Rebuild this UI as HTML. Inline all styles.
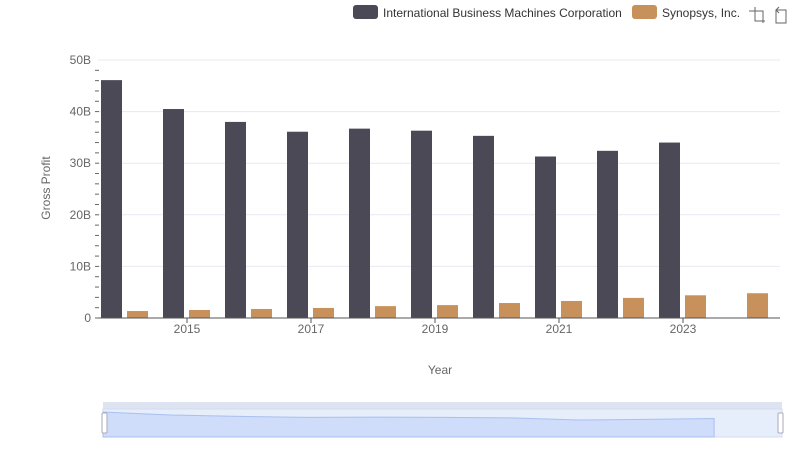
<!DOCTYPE html>
<html><head><meta charset="utf-8"><style>
body{margin:0;background:#fff;font-family:"Liberation Sans",sans-serif;}
svg text{font-family:"Liberation Sans",sans-serif;}
</style></head><body>
<svg id="c" width="800" height="461" xmlns="http://www.w3.org/2000/svg">
<g>
 <g><rect x="353" y="5" width="25" height="14" rx="3" fill="#4a4955"/><text x="383" y="17" font-size="12" fill="#333">International Business Machines Corporation</text></g>
 <g><rect x="632" y="5" width="25" height="14" rx="3" fill="#c8915c"/><text x="662" y="17" font-size="12" fill="#333">Synopsys, Inc.</text></g>
 <g stroke="#666" fill="none"><path d="M749 11h14v12M755 7v14h10"/></g>
 <g stroke="#666" fill="none"><path d="M776 10h10v13h-10zM779 7l-3 3 3 3"/></g>
</g>
<g id="grid"></g>
<g id="bars"></g>
<g id="axes"></g>
<text x="50" y="188" font-size="12" fill="#666" text-anchor="middle" transform="rotate(-90 50 188)">Gross Profit</text>
<text x="440" y="374" font-size="12" fill="#666" text-anchor="middle">Year</text>
<g id="dz"></g>
</svg>
<script>
const years=[2014,2015,2016,2017,2018,2019,2020,2021,2022,2023,2024];
const ibm=[46.1,40.5,38.0,36.1,36.7,36.3,35.3,31.3,32.4,34.0,null];
const snps=[1.35,1.55,1.75,1.95,2.3,2.5,2.9,3.3,3.9,4.4,4.8];
const yTicks=[0,10,20,30,40,50];
const yTickLabels=["0","10B","20B","30B","40B","50B"];
const NS="http://www.w3.org/2000/svg";
const X0=98,X1=780,Y0=318,Y1=60;
const band=(X1-X0)/years.length;
const y=v=>Y0-(v/50)*(Y0-Y1);
function mk(t,a,p){const e=document.createElementNS(NS,t);for(const k in a)e.setAttribute(k,a[k]);p.appendChild(e);return e;}
const grid=document.getElementById('grid'),bars=document.getElementById('bars'),axes=document.getElementById('axes');
yTicks.forEach((t,i)=>{
 const g=mk('line',{x1:X0,x2:X1,y1:y(t),y2:y(t),stroke:'#e6eaf2'},grid);
 
 
 const l=mk('text',{x:91,y:y(t)+4,'font-size':12,fill:'#666','text-anchor':'end'},axes);
 l.textContent=yTickLabels[i];
 
 
});
for(let v=0;v<50;v+=2){const m=mk('line',{x1:95,x2:99,y1:y(v),y2:y(v),stroke:'#666'},axes);
 
 }
const ax=mk('line',{x1:X0,x2:X1,y1:Y0,y2:Y0,stroke:'#555'},axes);


years.forEach((yr,i)=>{
 const b=X0+i*band;
 if(ibm[i]!=null){const r=mk('rect',{x:b+3,y:y(ibm[i]),width:21,height:Y0-y(ibm[i]),fill:'#4a4955'},bars);
  
  }
 const r2=mk('rect',{x:b+29,y:y(snps[i]),width:21,height:Y0-y(snps[i]),fill:'#c8915c'},bars);
 
 
 if(i%2==1){const cx=b+band/2-4;
  const tk=mk('line',{x1:cx,x2:cx,y1:Y0,y2:Y0+5,stroke:'#555'},axes);
  
  
  const t=mk('text',{x:cx,y:Y0+15,'font-size':12,fill:'#666','text-anchor':'middle'},axes);
  t.textContent=yr;
  
  }
});
const dz=document.getElementById('dz');
const DX0=103,DX1=782,DT=409,DB=437;
mk('rect',{x:DX0,y:402,width:DX1-DX0,height:7,fill:'#dde3f0'},dz);
mk('rect',{x:DX0,y:DT,width:DX1-DX0,height:DB-DT,fill:'#e6edfb',stroke:'#d4dbee'},dz);
const sx=i=>DX0+i*(DX1-DX0)/(years.length-1), sy=v=>DB-(v/50)*(DB-DT)*1.65+ (DB-DT)*0;
let pts=[],last=0;
ibm.forEach((v,i)=>{if(v!=null){pts.push(sx(i)+','+(DB-(v/46.1)*(DB-412)));last=i;}});
const area=mk('path',{d:'M'+DX0+','+DB+'L'+pts.join('L')+'L'+sx(last)+','+DB+'Z',fill:'#cfdcfa',stroke:'#a9c0f0'},dz);


[DX0,DX1-3].forEach(hx=>{const h=mk('rect',{x:hx-1,y:413,width:5,height:20,fill:'#fff',stroke:'#aab',rx:1},dz);
 
 });
</script>
</body></html>
